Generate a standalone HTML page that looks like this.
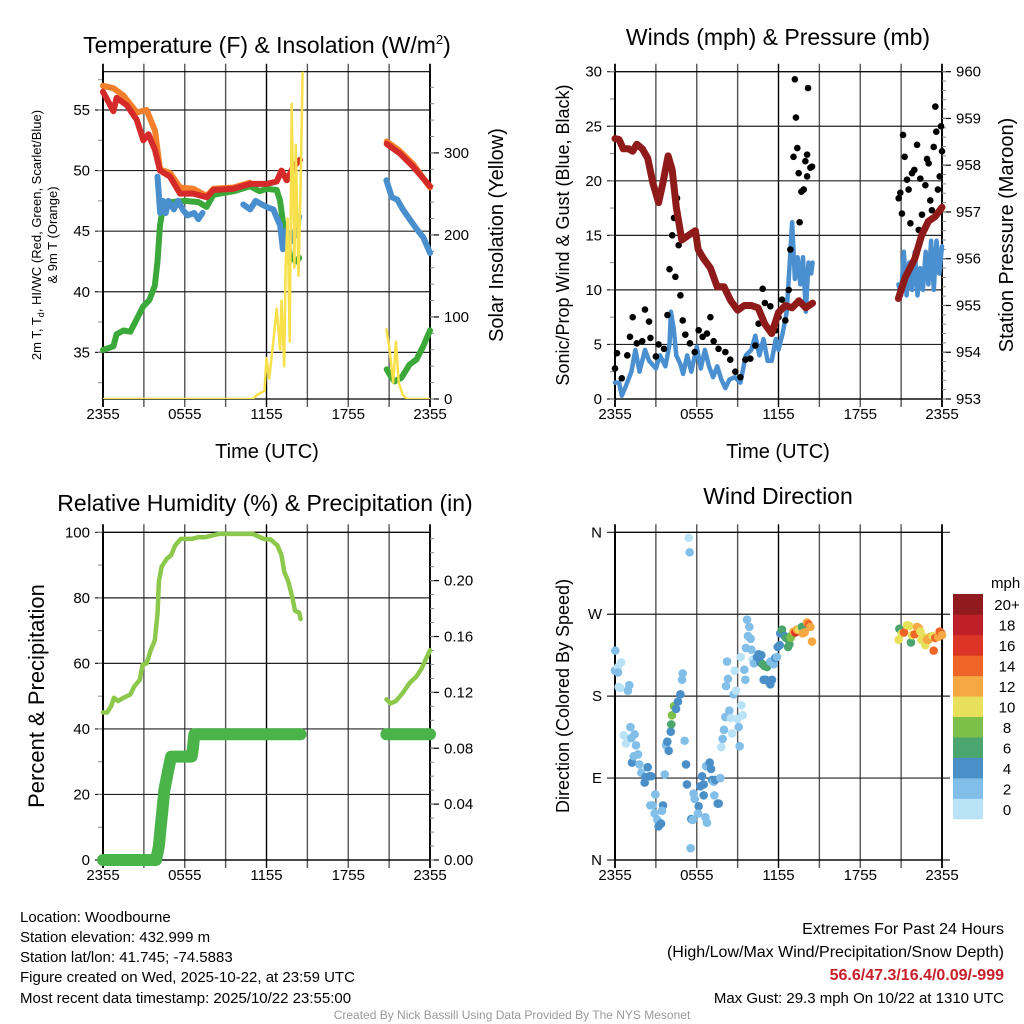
<!DOCTYPE html>
<html><head><meta charset="utf-8"><style>
html,body{margin:0;padding:0;background:#fff;}
svg{display:block;font-family:"Liberation Sans",sans-serif;}
</style></head><body>
<svg id="c" width="1024" height="1024" viewBox="0 0 1024 1024" xmlns="http://www.w3.org/2000/svg">
<g font-size="23" text-anchor="middle" fill="#000">
<text x="267" y="53">Temperature (F) &amp; Insolation (W/m<tspan font-size="13" dy="-9">2</tspan><tspan dy="9">)</tspan></text>
<text x="778" y="45">Winds (mph) &amp; Pressure (mb)</text>
<text x="265" y="511">Relative Humidity (%) &amp; Precipitation (in)</text>
<text x="778" y="504">Wind Direction</text>
</g>
<g fill="#000" text-anchor="middle">
<text x="267" y="458" font-size="20">Time (UTC)</text>
<text x="778" y="458" font-size="20">Time (UTC)</text>
<text transform="translate(41,235) rotate(-90)" font-size="13">2m T, T<tspan font-size="9" dy="3">d</tspan><tspan dy="-3">, HI/WC (Red, Green, Scarlet/Blue)</tspan></text>
<text transform="translate(57,235) rotate(-90)" font-size="13">&amp; 9m T (Orange)</text>
<text transform="translate(503,235) rotate(-90)" font-size="20">Solar Insolation (Yellow)</text>
<text transform="translate(569,235) rotate(-90)" font-size="18">Sonic/Prop Wind &amp; Gust (Blue, Black)</text>
<text transform="translate(1013,235) rotate(-90)" font-size="20">Station Pressure (Maroon)</text>
<text transform="translate(44,696) rotate(-90)" font-size="22">Percent &amp; Precipitation</text>
<text transform="translate(569,696) rotate(-90)" font-size="18">Direction (Colored By Speed)</text>
</g>
<g font-size="15" fill="#000">
<text x="20" y="922">Location: Woodbourne</text>
<text x="20" y="942">Station elevation: 432.999 m</text>
<text x="20" y="962">Station lat/lon: 41.745; -74.5883</text>
<text x="20" y="982">Figure created on Wed, 2025-10-22, at 23:59 UTC</text>
<text x="20" y="1003">Most recent data timestamp: 2025/10/22 23:55:00</text>
</g>
<g font-size="16" fill="#000" text-anchor="end">
<text x="1004" y="934">Extremes For Past 24 Hours</text>
<text x="1004" y="957">(High/Low/Max Wind/Precipitation/Snow Depth)</text>
<text x="1004" y="980" fill="#c8202a" font-weight="bold">56.6/47.3/16.4/0.09/-999</text>
<text x="1004" y="1003" font-size="15">Max Gust: 29.3 mph On 10/22 at 1310 UTC</text>
</g>
<text x="512" y="1019" font-size="12" fill="#999" text-anchor="middle">Created By Nick Bassill Using Data Provided By The NYS Mesonet</text>
</svg>
<script>
// ---------- data (time in hours since 2355 UTC) ----------
const xTickLabels = ["2355","0555","1155","1755","2355"];
const redT = [0,0.76,1.0,1.74,2.47,2.96,3.33,3.82,4.18,4.92,5.65,6.63,7.61,8.1,9.57,10.79,12.0,12.75,13.1,13.48,13.97,14.46,null,20.82,21.8,22.78,24];
const redV = [56.5,54.9,56,55.4,54.2,52.5,53.0,51.7,50.0,49.5,48.1,48.1,47.8,48.4,48.5,48.9,48.9,49.1,50.0,49.2,50.3,50.9,null,52.2,51.4,50.3,48.7];
const orangeT = [0,0.76,1.5,2.47,3.2,3.82,4.18,4.92,5.65,6.63,7.61,8.1,9.57,10.79,null,20.82,21.8,22.78,24];
const orangeV = [57.0,56.8,56.2,54.8,55.0,53.3,50.1,49.8,48.6,48.5,47.9,48.5,48.6,49.0,null,52.4,51.6,50.5,48.6];
const greenT = [0,0.76,1.0,1.5,2.0,2.5,2.96,3.4,3.8,4.0,4.18,4.4,5.0,6.0,7.0,7.6,8.1,9.6,10.79,11.5,12.0,12.75,13.0,13.3,13.5,13.8,14.2,14.4,null,20.82,21.2,21.4,21.9,22.5,23.0,23.5,24];
const greenV = [35.2,35.5,36.5,36.8,36.7,37.8,38.8,39.3,40.5,42.5,45.5,47.0,47.4,47.5,47.4,47.0,48.0,48.3,48.7,48.3,48.5,48.4,47.5,45,44,42.8,42.5,42.8,null,33.6,32.9,32.6,32.9,34.0,34.4,35.5,36.8];
const blueT = [4.0,4.2,4.4,4.6,4.8,5.2,5.5,5.9,6.2,6.7,7.0,7.3,null,10.3,10.8,11.2,11.5,12.0,12.5,12.8,13.0,13.2,13.4,13.6,13.9,14.2,14.4,null,20.8,21.2,21.6,22.0,22.5,23.0,23.5,24];
const blueV = [49.5,46.5,47.5,46.5,47.5,46.8,47.5,46.7,46.3,46.5,46.0,46.5,null,47.2,46.8,47.5,47.3,47.0,46.8,46.0,45.5,43.5,45.0,44.8,44.2,45.5,46.2,null,49.2,47.8,47.6,46.8,46.0,45.2,44.5,43.2];
const solarT = [0,11.0,11.3,11.85,12.0,12.2,12.5,12.75,13.0,13.1,13.3,13.4,13.55,13.7,13.85,14.05,14.15,14.35,14.5,14.65,null,20.8,21.0,21.3,21.5,21.7,22.0,22.3,24];
const solarV = [0,0,5,10,50,25,70,110,60,120,40,160,220,70,360,160,310,150,260,400,null,85,65,20,70,20,5,0,0];
const tempTicks = [35,40,45,50,55];
const solarTicks = [0,100,200,300];

const pressT = [0,0.3,0.6,1.0,1.3,1.6,2.0,2.4,2.8,3.2,3.5,3.9,4.2,4.5,4.9,5.4,5.9,6.1,6.5,7.0,7.5,8.0,8.5,9.0,9.5,10.0,10.5,11.0,11.5,12.0,12.5,13.0,13.5,14.0,14.5,null,20.8,21.3,22.0,22.5,23.0,23.5,24];
const pressV = [958.57,958.55,958.35,958.35,958.3,958.45,958.35,958.15,957.6,957.2,957.6,958.2,957.9,957.1,956.4,956.5,956.6,956.2,956.0,955.8,955.4,955.4,955.1,954.9,955.0,955.0,954.95,954.6,954.4,954.85,955.0,954.95,955.1,954.95,955.05,null,955.15,955.6,956.0,956.5,956.8,956.9,957.1];
const windT = [0,0.3,0.5,0.8,1.2,1.5,1.8,2.2,2.5,3.0,3.3,3.7,4.0,4.1,4.3,4.5,4.8,5.0,5.3,5.6,6.0,6.3,6.6,6.9,7.2,7.5,7.8,8.1,8.4,8.8,9.2,9.6,10.0,10.3,10.6,10.9,11.2,11.5,11.8,12.0,12.3,12.6,12.8,13.0,13.2,13.4,13.6,13.8,14.0,14.2,14.4,14.5,null,20.8,21.0,21.2,21.4,21.6,21.8,22.0,22.2,22.4,22.6,22.8,23.0,23.2,23.4,23.6,23.8,24];
const windV = [1.5,1.5,0.3,1.2,2.5,4.5,2.5,4.5,3.5,2.8,4.0,3.0,5.0,8.0,6.5,4.0,3.2,2.3,4.0,2.5,4.8,2.8,4.5,3.0,2.0,3.0,1.8,1.0,1.8,2.0,1.5,4.0,4.5,5.8,4.0,5.5,3.5,3.5,5.5,4.5,6.0,8.0,12.0,16.2,11.0,13.0,10.5,13.0,8.0,12.5,11.5,12.5,null,10.5,9.5,13.5,9.5,12.5,10.0,13.5,9.5,12.0,10.0,13.5,10.5,14.5,10.0,14.5,11.5,14.0];
const gustT = [0,0.15,0.5,0.9,1.1,1.3,1.6,2.0,2.2,2.5,2.6,3.0,3.2,3.6,3.85,4.0,4.2,4.33,4.43,4.55,4.67,4.8,4.97,5.16,5.5,5.85,6.14,6.43,6.75,7.0,7.24,7.6,8.1,8.46,8.83,9.2,9.57,9.93,10.3,10.54,10.84,11.0,11.4,11.77,12.0,12.26,12.5,12.75,12.87,13.1,13.2,13.28,13.38,13.48,13.55,13.68,13.85,13.97,14.1,14.17,14.1,14.34,14.46,20.82,20.94,21.06,21.14,21.26,21.43,21.55,21.68,21.8,21.97,22.17,22.29,22.41,22.53,22.78,22.9,23.02,23.14,23.26,23.39,23.51,23.58,23.7,23.83,23.93,24];
const gustV = [2.8,4.2,1.9,4.0,5.7,7.5,5.1,5.3,8.2,7.1,5.6,3.9,5.0,4.6,7.7,11.9,15.0,16.6,11.2,18.4,14.1,9.5,7.2,5.9,5.1,4.3,6.3,5.7,6.0,7.5,5.3,4.6,4.3,3.6,2.5,2.0,3.6,3.7,4.9,6.9,10.1,8.8,8.5,6.3,7.5,9.1,7.2,10.0,13.7,22.2,29.3,25.8,23.0,20.7,16.2,19.0,19.2,21.8,22.4,28.5,20.4,21.2,21.3,18.4,18.9,17.0,24.2,22.2,20.1,19.2,16.1,20.7,21.0,23.3,15.5,20.2,16.9,19.6,22.0,21.6,18.2,17.3,23.1,26.8,24.5,19.2,20.4,25.0,22.7];
const windTicks = [0,5,10,15,20,25,30];
const pressTicks = [953,954,955,956,957,958,959,960];

const rhT = [0,0.3,0.6,0.8,1.1,1.5,2.0,2.3,2.7,2.9,3.2,3.5,3.8,4.0,4.1,4.3,4.7,5.0,5.3,5.7,6.5,7.0,7.5,8.5,10,11.0,11.8,12.3,12.8,13.1,13.3,13.6,13.9,14.1,14.4,14.5,null,20.8,21.1,21.5,22.0,22.5,23.0,23.4,23.6,24];
const rhV = [45,45,47,49.5,48.5,49.5,50.5,53,55,59.5,60,64,67,75,85,89.5,92,93,96,98,98,98.5,98.5,99.5,99.5,99.5,98,97.8,96,93,88,85,80,76,75.5,73.5,null,49,47.8,48.5,51,54,56,58.5,60.5,64];
const precipT = [0,3.9,4.0,4.1,4.2,4.3,4.4,4.5,4.6,4.8,5.0,6.5,6.6,6.7,14.5,null,20.8,24];
const precipV = [0,0,0.005,0.01,0.02,0.03,0.04,0.05,0.055,0.065,0.074,0.074,0.08,0.09,0.09,null,0.09,0.09];
const rhTicks = [0,20,40,60,80,100];
const precipTicks = [0,0.04,0.08,0.12,0.16,0.20];

const dirT = [0.02,0,0.22,0.46,0.22,0.27,0.39,0.95,1.05,1.13,0.64,0.81,1.44,1.2,1.54,1.25,1.37,1.69,1.79,1.93,2.4,2.23,2.18,2.52,2.67,2.96,2.59,2.76,2.91,3.11,3.2,3.38,3.52,3.45,3.65,3.74,3.94,3.84,4.09,4.13,4.18,4.33,4.48,4.62,4.8,4.92,4.97,5.11,5.21,5.28,5.41,5.48,5.6,5.7,5.77,5.85,5.55,6.14,6.09,6.39,6.26,6.51,6.51,6.63,6.75,6.68,6.95,7.05,7.12,7.24,7.36,7.29,7.54,7.61,7.73,7.8,7.9,8.0,8.1,8.22,8.15,8.29,8.39,8.51,8.59,8.71,8.78,8.88,8.98,9.08,9.15,9.27,9.37,9.22,9.49,9.57,9.69,9.86,9.76,9.96,9.61,10.01,10.1,10.2,10.42,10.54,10.74,10.67,10.84,10.98,11.16,10.91,11.08,11.28,11.4,11.52,11.4,11.65,11.77,11.89,11.94,12.09,12.13,12.26,12.45,12.55,12.7,12.8,12.89,12.99,13.11,13.24,13.36,13.53,13.72,13.77,13.92,14.09,14.21,14.34,14.46,20.87,20.82,21.06,21.21,21.43,21.6,21.72,21.8,21.99,22.17,22.29,22.41,22.48,22.65,22.78,22.9,23.02,23.14,23.32,23.39,23.51,23.71,23.83,23.95,24];
const dirV = [230,208,212,217,206,190,189,186,192,146,137,128,138,134,126,107,114,116,105,96,102,91,85,92,92,72,60,60,51,44,37,40,60,54,94,126,120,130,141,149,159,169,166,174,182,198,205,131,105,83,354,338,45,44,73,67,13,59,51,92,81,71,83,47,41,103,107,100,88,86,88,71,62,62,90,124,133,143,157,218,191,199,164,156,139,182,208,186,155,146,125,170,159,223,209,198,264,256,246,243,233,231,220,216,223,226,225,217,215,213,212,198,198,196,193,198,218,215,222,223,234,236,249,253,246,244,234,237,244,247,251,250,253,253,256,249,250,261,259,256,240,254,242,249,250,258,257,239,247,248,256,255,251,242,245,236,242,242,245,246,230,244,245,251,249,247];
const dirSpeed = [3,3,1,1,3,1,1,3,3,3,1,1,3,3,3,5,3,3,3,3,5,5,5,5,5,3,3,3,3,3,5,5,5,3,3,3,5,5,5,7,9,9,5,5,5,3,3,3,5,5,1,3,5,3,3,3,3,5,3,5,5,5,5,3,3,3,5,5,5,3,5,3,5,5,3,1,3,3,3,3,3,3,3,1,1,3,1,1,1,3,3,1,1,1,3,3,3,3,3,3,3,3,1,3,5,5,5,5,7,7,7,5,5,5,5,5,3,3,5,3,5,5,5,7,5,7,7,7,9,9,13,17,13,11,7,13,13,13,15,13,13,7,11,11,15,11,11,7,11,15,13,13,11,11,11,11,13,13,13,11,15,15,13,15,15,13];
const dirTicks = [0,90,180,270,360];
const dirTickLabels = ["N","E","S","W","N"];
const speedBins = ["0","2","4","6","8","10","12","14","16","18","20+"];
const speedColors = ["#b9e2f6","#82bfe8","#4a8fc7","#4aa56e","#7cc04a","#e6e05a","#f6a843","#ef6429","#dc3427","#bf1f29","#901a1d"];

// ---------- drawing ----------
const NS = "http://www.w3.org/2000/svg";
const svg = document.getElementById("c");
function mk(tag, attrs, parent){
  const e = document.createElementNS(NS, tag);
  for (const k in attrs) e.setAttribute(k, attrs[k]);
  (parent||svg).appendChild(e);
  return e;
}
const W = 327;
function xScale(x0){ return t => x0 + t*W/24; }
function yScale(top,bot,lo,hi){ return v => bot - (v-lo)/(hi-lo)*(bot-top); }

function frame(name, x0, top, bot, ys, leftTicks, leftLabels, minorStep, lo, hi, extendRight){
  const g = mk("g", {});
  
  
  const xs = xScale(x0);
  for (let h=0; h<=24; h+=3){
    const l = mk("line", {x1:xs(h), x2:xs(h), y1:top-8, y2:bot+8, stroke:(h%12===0?"#000":"#555"), "stroke-width":(h===0||h===24)?1.8:1.4}, g);
    
    
  }
  xTickLabels.forEach((s,i)=>{
    const t = mk("text", {x:xs(i*6), y:bot+20, "font-size":15, "text-anchor":"middle"}, g);
    t.textContent = s;
    
    
  });
  leftTicks.forEach((v,i)=>{
    const l = mk("line", {x1:x0-8, x2:x0+W+(extendRight?8:0), y1:ys(v), y2:ys(v), stroke:"#222", "stroke-width":1.2}, g);
    
    
    const t = mk("text", {x:x0-13, y:ys(v)+5, "font-size":15, "text-anchor":"end"}, g);
    t.textContent = leftLabels[i];
    
    
  });
  if (minorStep){
    for (let v=Math.ceil(lo/minorStep)*minorStep; v<=hi; v+=minorStep){
      const l = mk("line", {x1:x0-5, x2:x0, y1:ys(v), y2:ys(v), stroke:"#888", "stroke-width":1}, g);
      
      
    }
  }
  mk("line", {x1:x0, x2:x0, y1:top, y2:bot, stroke:"#000", "stroke-width":2}, g);
  mk("line", {x1:x0+W, x2:x0+W, y1:top, y2:bot, stroke:"#000", "stroke-width":1.5}, g);
  mk("line", {x1:x0, x2:x0+W, y1:top, y2:top, stroke:"#000", "stroke-width":1.2}, g);
  mk("line", {x1:x0, x2:x0+W, y1:bot, y2:bot, stroke:"#000", "stroke-width":1.2}, g);
  return g;
}
function rightAxis(name, x1, ys, ticks, labels, minorStep, lo, hi){
  const g = mk("g", {});
  
  
  ticks.forEach((v,i)=>{
    mk("line", {x1:x1, x2:x1+9, y1:ys(v), y2:ys(v), stroke:"#000", "stroke-width":1.2}, g);
    const t = mk("text", {x:x1+14, y:ys(v)+5, "font-size":15}, g);
    t.textContent = labels[i];
    
    
  });
  for (let v=lo; v<=hi+1e-9; v+=minorStep){
    mk("line", {x1:x1, x2:x1+4, y1:ys(v), y2:ys(v), stroke:"#888", "stroke-width":1}, g);
  }
}
function pathFrom(ts, vs, xs, ys){
  let d = "", pen = false;
  for (let i=0;i<ts.length;i++){
    if (ts[i]===null || vs[i]===null){ pen=false; continue; }
    d += (pen?"L":"M") + xs(ts[i]).toFixed(1) + "," + ys(vs[i]).toFixed(1);
    pen = true;
  }
  return d;
}
function series(name, ts, vs, xs, ys, color, width, clip){
  const p = mk("path", {d:pathFrom(ts,vs,xs,ys), fill:"none", stroke:color, "stroke-width":width, "stroke-linejoin":"round", "stroke-linecap":"round"});
  if (clip) p.setAttribute("clip-path", clip);
  
  
  return p;
}

const defs = mk("defs", {});
const cp1 = mk("clipPath", {id:"clipT"}, defs);
mk("rect", {x:103, y:71.7, width:W, height:327.3}, cp1);

// Panel 1: temperature
{
  const top=71.7, bot=399, x0=103, lo=31.15, hi=58.16;
  const xs = xScale(x0), ys = yScale(top,bot,lo,hi), yr = yScale(top,bot,0,399);
  frame("temperature", x0, top, bot, ys, tempTicks, tempTicks.map(String), 2.5, lo, hi, false);
  rightAxis("insolation-axis", x0+W, yr, solarTicks, solarTicks.map(String), 20, 0, 399);
  series("dewpoint-line", greenT, greenV, xs, ys, "#3aa93a", 6);
  series("heat-index-line", blueT, blueV, xs, ys, "#4a8fcd", 6);
  series("temp-9m-line", orangeT, orangeV, xs, ys, "#f47f2a", 6);
  series("temp-2m-line", redT, redV, xs, ys, "#d42a2a", 6);
  series("insolation-line", solarT, solarV, xs, yr, "#f7e04a", 2.5, "url(#clipT)");
}
// Panel 2: winds
{
  const top=71.7, bot=399, x0=615;
  const xs = xScale(x0), ys = yScale(top,bot,0,30), yp = yScale(top,bot,953,960);
  frame("winds", x0, top, bot, ys, windTicks, windTicks.map(String), 2.5, 0, 30, false);
  rightAxis("pressure-axis", x0+W, yp, pressTicks, pressTicks.map(String), 0.2, 953, 960);
  series("wind-speed-line", windT, windV, xs, ys, "#4a90d0", 4.5);
  const g = mk("g", {});
  
  
  gustT.forEach((t,i)=>{
    const c = mk("circle", {cx:xs(t), cy:ys(gustV[i]), r:3.3, fill:"#000"}, g);
    
    
  });
  series("pressure-line", pressT, pressV, xs, yp, "#8e1a1a", 7);
}
// Panel 3: humidity
{
  const top=532.3, bot=860, x0=103;
  const xs = xScale(x0), ys = yScale(top,bot,0,100), yr = yScale(top,bot,0,0.2346);
  frame("humidity", x0, top, bot, ys, rhTicks, rhTicks.map(String), 10, 0, 100, false);
  rightAxis("precip-axis", x0+W, yr, precipTicks, precipTicks.map(v=>v.toFixed(2)), 0.01, 0, 0.23);
  series("precip-line", precipT, precipV, xs, yr, "#4ab34a", 12);
  series("humidity-line", rhT, rhV, xs, ys, "#8cc84b", 4.5);
}
// Panel 4: wind direction
{
  const top=532.3, bot=860, x0=615;
  const xs = xScale(x0), ys = yScale(top,bot,0,360);
  frame("wind-direction", x0, top, bot, ys, dirTicks, dirTickLabels, 0, 0, 0, true);
  const g = mk("g", {});
  
  
  dirT.forEach((t,i)=>{
    const bin = Math.min(10, Math.floor(dirSpeed[i]/2));
    const c = mk("circle", {cx:xs(t), cy:ys(dirV[i]), r:4.3, fill:speedColors[bin]}, g);
    
    
  });
  const lg = mk("g", {});
  
  
  const bh = 225/speedBins.length;
  speedBins.forEach((s,i)=>{
    const y = 819 - (i+1)*bh;
    const r = mk("rect", {x:953, y:y, width:30, height:bh+0.3, fill:speedColors[i]}, lg);
    
    
    const t = mk("text", {x:1007, y:y+bh/2+6, "font-size":15, "text-anchor":"middle"}, lg);
    t.textContent = s;
    
    
  });
  const u = mk("text", {x:991, y:588, "font-size":15}, lg);
  u.textContent = "mph";
  
  
}
</script>
</body></html>
